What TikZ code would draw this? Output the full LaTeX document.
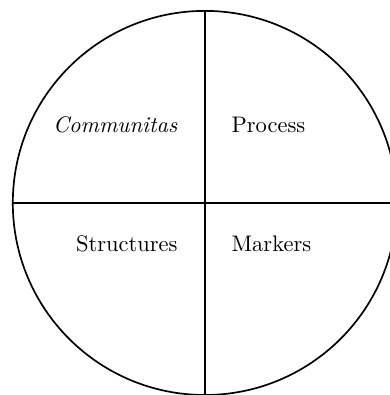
\documentclass[tikz,border=0pt]{standalone}
\usepackage{tikz}
\usetikzlibrary{positioning}

\begin{document}
\begin{tikzpicture}[
  ring/.style={circle,draw,line width=0.75pt,minimum size=6cm,inner sep=0pt},
  quad/.style={font=\normalsize,inner sep=0pt}
]
\useasboundingbox (-3.2,-3.0) rectangle (2.89,3.17);
\node[ring] (wheel) at (0,0) {};
\draw[line width=0.7pt] (wheel.north) -- (wheel.south);
\draw[line width=0.7pt] (wheel.west) -- (wheel.east);

\node[quad,anchor=east] (comm)   at (-0.42,1.22)  {\textit{Communitas}};
\node[quad,anchor=west] (proc)   at (0.41,1.22)   {Process};
\node[quad,anchor=east] (struct) at (-0.42,-0.64) {Structures};
\node[quad,anchor=west] (mark)   at (0.41,-0.64)  {Markers};
\end{tikzpicture}
\end{document}
